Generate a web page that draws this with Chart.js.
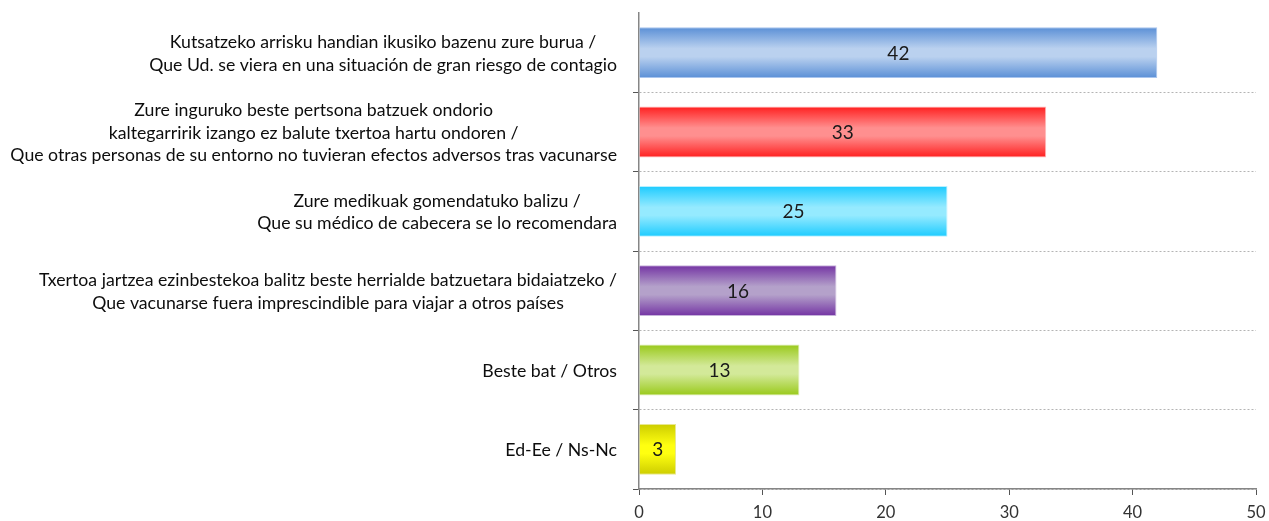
<!DOCTYPE html>
<html>
<head>
<meta charset="utf-8">
<script src="https://cdn.jsdelivr.net/npm/chart.js@4"></script>
<style>
  html, body { margin: 0; padding: 0; background: #ffffff; }
  #wrap { width: 1269px; height: 521px; position: relative; }
</style>
</head>
<body>
<div id="wrap"><canvas id="c" width="1269" height="521"></canvas></div>
<script>
// ---- data ----
const categories = [
  ["Kutsatzeko arrisku handian ikusiko bazenu zure burua /", "Que Ud. se viera en una situación de gran riesgo de contagio"],
  ["Zure inguruko beste pertsona batzuek ondorio", "kaltegarririk izango ez balute txertoa hartu ondoren /", "Que otras personas de su entorno no tuvieran efectos adversos tras vacunarse"],
  ["Zure medikuak gomendatuko balizu /", "Que su médico de cabecera se lo recomendara"],
  ["Txertoa jartzea ezinbestekoa balitz beste herrialde batzuetara bidaiatzeko /", "Que vacunarse fuera imprescindible para viajar a otros países"],
  ["Beste bat / Otros"],
  ["Ed-Ee / Ns-Nc"]
];
const values = [42, 33, 25, 16, 13, 3];
const xMin = 0, xMax = 50, xStep = 10;

// ---- styles ----
const edgeColors = ['#5a8fd6', '#ff1f1f', '#1ccbff', '#7333a3', '#99c91a', '#cccc00'];
const midColors  = ['#bad1ef', '#ff8f8f', '#95eaff', '#b4a1ca', '#d3e999', '#ffff10'];
const lineColors = ['#a9c5ee', '#ffb8b8', '#b8f0ff', '#c6b3da', '#dcecb0', '#e8e890'];

const FONT = 'Lato, "Open Sans", sans-serif';

function barGradient(ctx) {
  const chart = ctx.chart;
  const i = ctx.dataIndex;
  const ys = chart.scales && chart.scales.y;
  const area = chart.chartArea;
  if (!ys || !area || i === undefined) return edgeColors[i || 0];
  const cy = ys.getPixelForValue(i);
  const h = (area.bottom - area.top) / categories.length * 0.64;
  const g = chart.ctx.createLinearGradient(0, cy - h / 2, 0, cy + h / 2);
  g.addColorStop(0, edgeColors[i]);
  g.addColorStop(0.42, midColors[i]);
  g.addColorStop(0.58, midColors[i]);
  g.addColorStop(1, edgeColors[i]);
  return g;
}

const valueLabels = {
  id: 'valueLabels',
  afterDatasetsDraw(chart) {
    const c = chart.ctx;
    const meta = chart.getDatasetMeta(0);
    c.save();
    c.font = '19px ' + FONT;
    c.fillStyle = '#1a1a1a';
    c.textAlign = 'center';
    c.textBaseline = 'middle';
    meta.data.forEach((bar, i) => {
      const x = (bar.base + bar.x) / 2;
      c.fillText(String(values[i]), x, bar.y + 1);
    });
    c.restore();
  }
};

const categoryLabels = {
  id: 'categoryLabels',
  afterDraw(chart) {
    const c = chart.ctx;
    const ys = chart.scales.y;
    const rightEdge = chart.chartArea.left - 22;
    const lh = 22.5;
    c.save();
    c.font = '17.7px ' + FONT;
    c.fillStyle = '#0d0d0d';
    c.textAlign = 'center';
    c.textBaseline = 'middle';
    categories.forEach((lines, i) => {
      const cy = ys.getPixelForValue(i);
      const widest = Math.max(...lines.map(l => c.measureText(l).width));
      const cx = rightEdge - widest / 2;
      const top = cy - (lines.length - 1) * lh / 2 + 1;
      lines.forEach((l, k) => c.fillText(l, cx, top + k * lh));
    });
    c.restore();
  }
};

new Chart(document.getElementById('c'), {
  type: 'bar',
  data: {
    labels: categories,
    datasets: [{
      data: values,
      backgroundColor: barGradient,
      borderColor: lineColors,
      borderWidth: 1,
      borderSkipped: 'start',
      barPercentage: 0.64,
      categoryPercentage: 1.0
    }]
  },
  options: {
    indexAxis: 'y',
    responsive: false,
    animation: false,
    layout: { padding: { top: 13, right: 13, left: 0, bottom: 0 } },
    plugins: { legend: { display: false }, tooltip: { enabled: false } },
    scales: {
      y: {
        type: 'category',
        offset: true,
        afterFit(s) { s.width = 639; s.paddingTop = 0; s.paddingBottom = 0; },
        ticks: { display: false },
        grid: {
          offset: true,
          drawOnChartArea: true,
          drawTicks: true,
          tickLength: 6,
          lineWidth: 1,
          color: (ctx) => ctx.index === 0 ? 'rgba(0,0,0,0)' : '#b4b4b4',
          tickColor: (ctx) => ctx.index === 0 ? 'rgba(0,0,0,0)' : '#555555'
        },
        border: { display: true, color: '#868686', width: 1.5, dash: [2, 2] }
      },
      x: {
        min: xMin,
        max: xMax,
        afterFit(s) { s.height = 32; s.paddingLeft = 0; s.paddingRight = 0; },
        ticks: {
          stepSize: xStep,
          color: '#333333',
          font: { family: FONT, size: 16.5 },
          padding: 8
        },
        grid: {
          drawOnChartArea: false,
          drawTicks: true,
          tickLength: 6,
          tickColor: '#555555'
        },
        border: { display: true, color: '#868686', width: 1.5 }
      }
    }
  },
  plugins: [valueLabels, categoryLabels]
});
</script>
</body>
</html>
